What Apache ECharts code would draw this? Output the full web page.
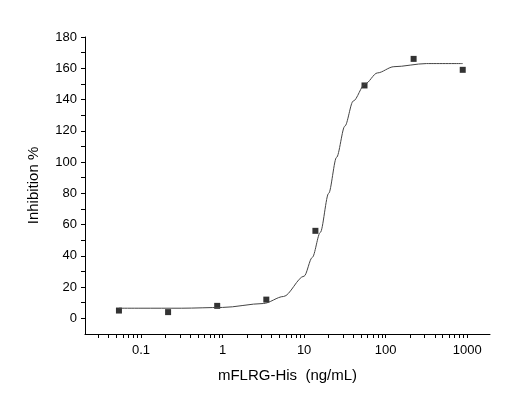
<!DOCTYPE html><html><head><meta charset="utf-8"><script src="https://cdn.jsdelivr.net/npm/echarts@6/dist/echarts.min.js"></script>
<style>body{margin:0;background:#fff}#c{width:520px;height:412px}</style></head><body><div id="c"></div><script>
const conc=[0.0537,0.215,0.86,3.44,13.75,55,220,880];
const inhibition=[5,4,8,12,56,149,166,159];
const curveConc=[0.0537,0.1,0.316,1,3.16,5.6,10,12.6,15.8,20,25,31.6,40,56,79,126,316,880];
const curveVal=[6.5,6.5,6.5,7,9.5,14,27,39,55,80,103,123,139,150,157,161,163,163];
const xTicks=[0.1,1,10,100,1000];
const yTicks=[0,20,40,60,80,100,120,140,160,180];
const L=Math.log10;
const minor=[];for(let e=-2;e<=3;e++)for(let m=1;m<10;m++){const v=L(m*Math.pow(10,e));if(v>-1.69&&v<3.29)minor.push(v);}
const yMinor=[];for(let v=0;v<=180;v+=10)yMinor.push(v);
const font='Liberation Sans, Arial, sans-serif';
echarts.init(document.getElementById('c')).setOption({animation:false,
grid:{left:85,right:30,top:37,bottom:78},
xAxis:{type:'value',min:L(0.0206),max:L(1900),axisLine:{onZero:false,lineStyle:{color:'#000'}},splitLine:{show:false},
 axisTick:{customValues:minor,length:4,inside:false,lineStyle:{color:'#000'}},
 axisLabel:{customValues:xTicks.map(L),formatter:v=>String(Math.round(Math.pow(10,v)*1000)/1000),color:'#000',fontFamily:font,fontSize:13,margin:10},
 name:'mFLRG-His  (ng/mL)',nameLocation:'middle',nameGap:34,nameTextStyle:{color:'#000',fontFamily:font,fontSize:15}},
yAxis:{type:'value',min:-10,max:180,axisLine:{show:true,onZero:false,lineStyle:{color:'#000'}},splitLine:{show:false},
 axisTick:{show:true,customValues:yMinor,length:4,lineStyle:{color:'#000'}},
 axisLabel:{customValues:yTicks,color:'#000',fontFamily:font,fontSize:13,margin:8},
 name:'Inhibition %',nameLocation:'middle',nameGap:44,nameTextStyle:{color:'#000',fontFamily:font,fontSize:15}},
series:[{type:'line',smooth:0.3,smoothMonotone:'x',symbol:'none',data:curveConc.map((c,i)=>[L(c),curveVal[i]]),lineStyle:{color:'#444',width:1}},
{type:'scatter',symbol:'rect',symbolSize:6,itemStyle:{color:'#000'},data:conc.map((c,i)=>[L(c),inhibition[i]])}]});
</script></body></html>
